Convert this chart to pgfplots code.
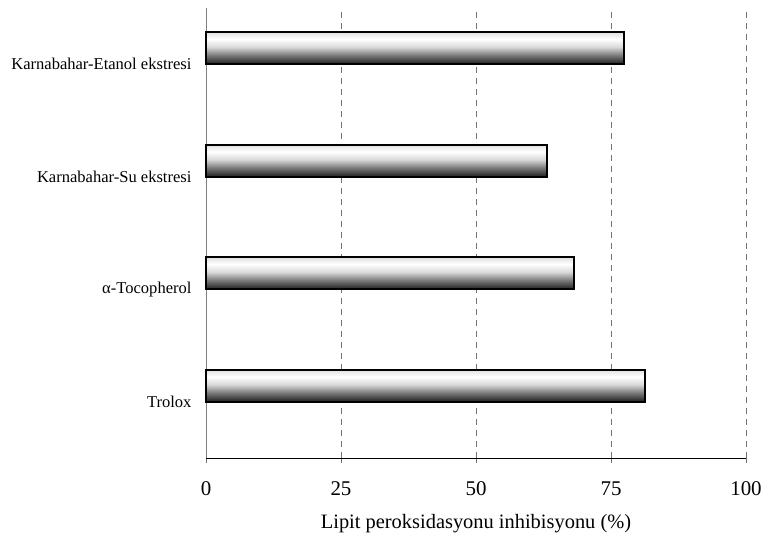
\documentclass[border=0pt]{standalone}
\usepackage{pgfplots}
\pgfplotsset{compat=1.18}
\usepackage{fontspec}
\setmainfont{Liberation Serif}
\pgfdeclareverticalshading{barshade}{100bp}{color(0bp)=(black!88); color(25bp)=(black!88); color(38bp)=(black!55); color(52bp)=(black!15); color(64bp)=(white); color(75bp)=(black!12); color(100bp)=(black!12)}
\pgfplotsset{mybar/.style={xbar, bar width=32bp, bar shift=16bp, draw=black, line width=1.6bp, shading=barshade, mark=none}}
\begin{document}
\begin{tikzpicture}
\begin{axis}[
  name=ax,
  scale only axis,
  width=540bp, height=450bp,
  xmin=0, xmax=100,
  ymin=-0.5, ymax=3.5,
  axis x line*=bottom,
  axis y line*=left,
  x axis line style={black, line width=0.9bp},
  y axis line style={black!50, line width=0.9bp},
  xtick={0,25,50,75,100},
  xtick align=outside,
  xmajorgrids,
  grid style={black!55, dash pattern=on 6bp off 5bp, line width=0.9bp},
  xtick style={black!55, dash pattern=on 6bp off 5bp, line width=0.9bp},
  major tick length=5bp,
  ytick={0,1,2,3},
  yticklabels={Trolox, {α-Tocopherol}, {Karnabahar-Su ekstresi}, {Karnabahar-Etanol ekstresi}},
  minor ytick={0.5,1.5,2.5},
  ytick style={draw=none},
  minor tick style={draw=black!60, line width=0.8bp},
  minor tick length=6bp,
  ytick align=outside,
  /pgf/number format/assume math mode=true,
  xticklabel style={font=\fontsize{21}{24}\selectfont, yshift=-15bp},
  yticklabel style={font=\fontsize{16.6}{19}\selectfont, xshift=-6bp},
  xlabel={Lipit peroksidasyonu inhibisyonu (\%)},
  xlabel style={font=\fontsize{20.5}{24}\selectfont, yshift=-12bp},
  clip=false,
]
\addplot[mybar] coordinates {(81.3,0)};
\addplot[mybar] coordinates {(68.1,1)};
\addplot[mybar] coordinates {(63.1,2)};
\addplot[mybar] coordinates {(77.4,3)};
\end{axis}
\pgfresetboundingbox
\path[use as bounding box] ([xshift=-206bp,yshift=-83bp]ax.south west) rectangle ([xshift=19bp,yshift=8bp]ax.north east);
\end{tikzpicture}
\end{document}
